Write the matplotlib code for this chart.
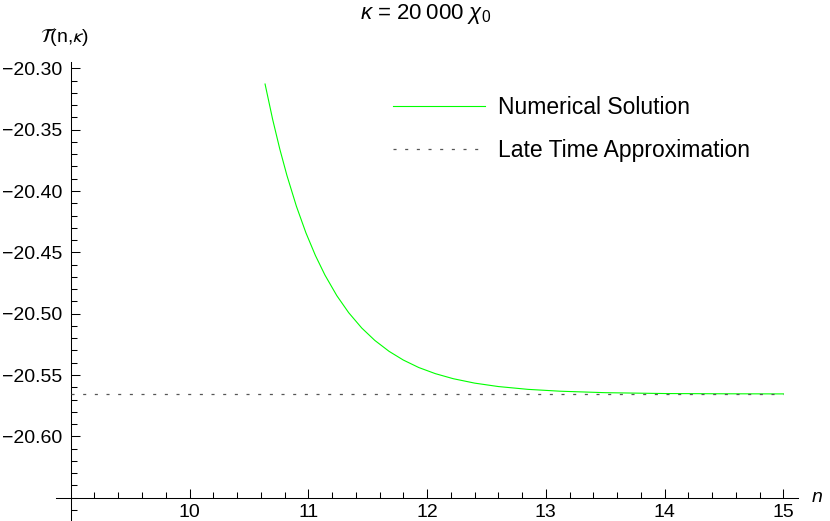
import numpy as np
import matplotlib
matplotlib.use("Agg")
import matplotlib.pyplot as plt
from matplotlib.ticker import FixedLocator, FixedFormatter

# numerical solution
n_num = [10.636, 10.70, 10.76, 10.82, 10.90, 10.98, 11.06, 11.14, 11.24,
         11.34, 11.45, 11.56, 11.68, 11.80, 11.93, 12.07, 12.22, 12.40,
         12.60, 12.85, 13.12, 13.5, 14.0, 14.5, 15.0]
t_num = [-20.3128, -20.3417, -20.3658, -20.3873, -20.4125, -20.4341, -20.4526,
         -20.4685, -20.4853, -20.4992, -20.5117, -20.5218, -20.5307, -20.5378,
         -20.5439, -20.5489, -20.5530, -20.5566, -20.5594, -20.5617, -20.5632,
         -20.5644, -20.5651, -20.5653, -20.5654]

# late time approximation (constant level)
n_late = [9.0, 15.0]
t_late = [-20.5655, -20.5655]

x_major = [10, 11, 12, 13, 14, 15]
x_labels = ["10", "11", "12", "13", "14", "15"]
y_major = [-20.30, -20.35, -20.40, -20.45, -20.50, -20.55, -20.60]
y_labels = ["\u221220.30", "\u221220.35", "\u221220.40", "\u221220.45",
            "\u221220.50", "\u221220.55", "\u221220.60"]

plt.rcParams['font.family'] = ['Liberation Sans', 'DejaVu Sans']
plt.rcParams['mathtext.fontset'] = 'custom'
plt.rcParams['mathtext.rm'] = 'Liberation Sans'
plt.rcParams['mathtext.it'] = 'Liberation Sans:italic'
plt.rcParams['lines.scale_dashes'] = False

W, H = 830, 521
fig = plt.figure(figsize=(W / 100, H / 100), dpi=100)
ax = fig.add_axes([56 / W, 0.0, (797.7 - 56) / W, (H - 61.7) / H])
ax.set_xlim(8.876, 15.12)
ax.set_ylim(-20.669, -20.2946)

ax.plot(n_num, t_num, color='#00ff00', lw=0.8, label='Numerical Solution', zorder=3)
ax.plot(n_late, t_late, color='#555555', lw=0.9, dashes=(2.2, 6.2),
        label='Late Time Approximation', zorder=4)

# Mathematica-like axes crossing at (9, -20.65)
for s in ['top', 'right']:
    ax.spines[s].set_visible(False)
ax.spines['left'].set_position(('data', 9))
ax.spines['bottom'].set_position(('data', -20.65))
for s in ['left', 'bottom']:
    ax.spines[s].set_linewidth(0.75)

ax.xaxis.set_major_locator(FixedLocator(x_major))
ax.xaxis.set_major_formatter(FixedFormatter(x_labels))
x_minor = [v for v in np.arange(9.2, 15.01, 0.2) if abs(v - round(v)) > 1e-6]
ax.xaxis.set_minor_locator(FixedLocator(x_minor))

ax.yaxis.set_major_locator(FixedLocator(y_major))
ax.yaxis.set_major_formatter(FixedFormatter(y_labels))
y_minor = [v for v in np.arange(-20.66, -20.295, 0.01)
           if min(abs(v - m) for m in y_major) > 1e-6]
ax.yaxis.set_minor_locator(FixedLocator(y_minor))

ax.tick_params(which='major', direction='in', length=6.5, width=0.75, labelsize=14)
ax.tick_params(which='minor', direction='in', length=4, width=0.75)
ax.tick_params(axis='x', which='major', pad=4.8)
ax.tick_params(axis='y', which='major', pad=5.8)

ax.legend(loc='upper left', bbox_to_anchor=(393 / W, 1 - 96.5 / H),
          bbox_transform=fig.transFigure, frameon=False, fontsize=16.5,
          borderpad=0, borderaxespad=0, handlelength=4.01,
          handletextpad=0.57, labelspacing=0.87)

fig.text(426 / W, 1 - 14 / H, r'$\kappa$ = 20' + '\u2009' + r'000 $\chi_0$',
         ha='center', va='center', fontsize=16)
fig.text(40 / W, 1 - 36 / H, r'$\mathcal{T}$(n,$\kappa$)', ha='left', va='center',
         fontsize=14, math_fontfamily='stixsans')
fig.text(812 / W, 1 - 497 / H, 'n', ha='left', va='center', fontsize=14,
         style='italic')

fig.savefig('out.png', dpi=100)
